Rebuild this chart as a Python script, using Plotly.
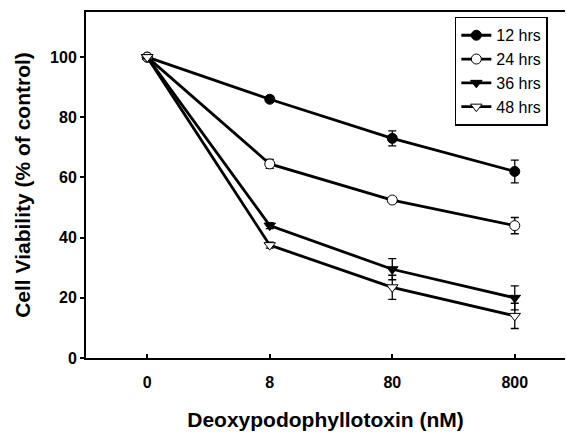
import plotly.graph_objects as go

doses = ["0", "8", "80", "800"]
series_names = ["12 hrs", "24 hrs", "36 hrs", "48 hrs"]
v12 = [100, 86, 73, 62]
e12 = [0.5, 1.0, 2.5, 3.8]
v24 = [100, 64.5, 52.5, 44]
e24 = [0.5, 1.5, 1.0, 2.7]
v36 = [100, 44, 29.5, 20]
e36 = [0.5, 1.0, 3.5, 4.0]
v48 = [100, 37.5, 23.5, 14]
e48 = [0.5, 1.0, 4.0, 4.2]

values = [v12, v24, v36, v48]
errors = [e12, e24, e36, e48]
symbols = ["circle", "circle", "triangle-down", "triangle-down"]
fills = ["black", "white", "black", "white"]

xpos = list(range(len(doses)))

fig = go.Figure()
for name, v, e, s, f in zip(series_names, values, errors, symbols, fills):
    fig.add_trace(go.Scatter(
        x=xpos, y=v, name=name, mode="lines+markers",
        line=dict(color="black", width=2.8),
        marker=dict(symbol=s, size=10, color=f, line=dict(color="black", width=1)),
        error_y=dict(type="data", array=e, visible=True, color="black",
                     thickness=1.3, width=4),
    ))

font_family = "Liberation Sans, Arial, sans-serif"
fig.update_layout(
    width=566, height=434,
    margin=dict(l=86, r=1, t=12, b=76),
    paper_bgcolor="white", plot_bgcolor="white",
    font=dict(family=font_family, color="black"),
    showlegend=True,
    legend=dict(x=0.77, y=0.986, xanchor="left", yanchor="top",
                bordercolor="black", borderwidth=1.5, bgcolor="white",
                font=dict(size=16, family=font_family), tracegroupgap=0,
                itemwidth=30),
    xaxis=dict(
        range=[-0.5, 3.41], tickvals=xpos, ticktext=doses,
        showline=True, linecolor="black", linewidth=2, mirror=True,
        ticks="inside", ticklen=4, tickcolor="black", tickwidth=1.5,
        showgrid=False, zeroline=False, automargin=False,
        ticklabelstandoff=9,
        tickfont=dict(size=16, family=font_family, weight="bold"),
        title=dict(text="<b>Deoxypodophyllotoxin (nM)</b>", font=dict(size=21), standoff=22),
    ),
    yaxis=dict(
        range=[0, 115], tickvals=[0, 20, 40, 60, 80, 100],
        showline=True, linecolor="black", linewidth=2,
        ticks="outside", ticklen=4, tickcolor="black", tickwidth=1.5,
        showgrid=False, zeroline=False, automargin=False,
        tickfont=dict(size=16, family=font_family, weight="bold"),
        title=dict(text="<b>Cell Viability (% of control)</b>", font=dict(size=21), standoff=14),
    ),
)

fig.write_html("out.html")
